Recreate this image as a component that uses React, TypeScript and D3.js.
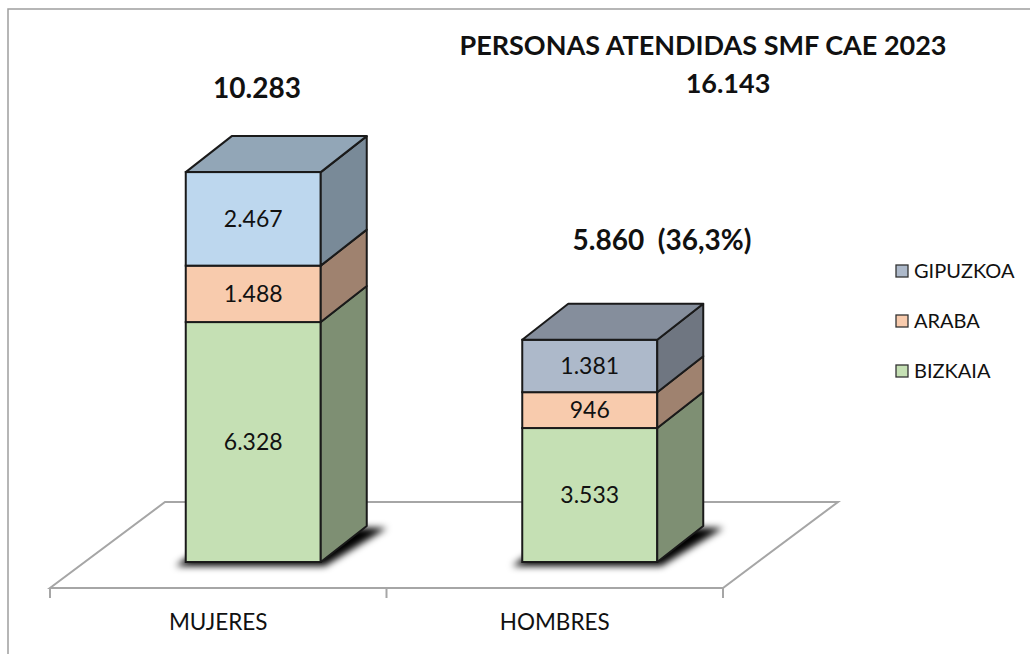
import React from "react";
import * as d3 from "d3";

const categories = ["MUJERES", "HOMBRES"];
const seriesNames = ["BIZKAIA", "ARABA", "GIPUZKOA"];
const bizkaia = [6328, 3533];
const araba = [1488, 946];
const gipuzkoa = [2467, 1381];
const totalLabels = ["10.283", "5.860  (36,3%)"];
const titleLines = ["PERSONAS ATENDIDAS SMF CAE 2023", "16.143"];
const legendOrder = ["GIPUZKOA", "ARABA", "BIZKAIA"];

const W = 1030;
const H = 654;
const FONT = "Lato, 'Open Sans', sans-serif";

const frontColors: Record<string, string[]> = {
  BIZKAIA: ["#C5E0B4", "#C5E0B4"],
  ARABA: ["#F8CBAD", "#F8CBAD"],
  GIPUZKOA: ["#BDD7EE", "#ADB9CA"],
};
const legendColors: Record<string, string> = {
  BIZKAIA: "#C5E0B4",
  ARABA: "#F8CBAD",
  GIPUZKOA: "#ADB9CA",
};

function shade(c: string, k: number) {
  const r = d3.rgb(c);
  return d3.rgb(r.r * k, r.g * k, r.b * k).formatHex();
}

const locale = d3.formatLocale({ decimal: ",", thousands: ".", grouping: [3], currency: ["", "€"] });
const fmt = locale.format(",d");

export default function App() {
  const floorFront = 588;
  const x = d3.scaleBand<string>().domain(categories).range([50, 723]);
  const y = d3.scaleLinear().domain([0, 12000]).range([562, 107]);
  const barW = 135;
  const barShift = 35;
  const dx = 46;
  const dy = -36;
  const fdx = 115;
  const fdy = -86;

  const seriesVals: Record<string, number[]> = { BIZKAIA: bizkaia, ARABA: araba, GIPUZKOA: gipuzkoa };
  const stack = d3.stack<any>().keys(seriesNames)(
    categories.map((c, i) => ({ cat: c, BIZKAIA: bizkaia[i], ARABA: araba[i], GIPUZKOA: gipuzkoa[i] }))
  );

  const x0 = x(categories[0])!;
  const x1 = x(categories[categories.length - 1])! + x.bandwidth();
  const floorPts = [
    [x0, floorFront],
    [x1, floorFront],
    [x1 + fdx, floorFront + fdy],
    [x0 + fdx, floorFront + fdy],
  ];

  const bars = categories.map((c, i) => {
    const cx = x(c)! + x.bandwidth() / 2 + barShift;
    const left = cx - barW / 2;
    const right = cx + barW / 2;
    return { c, i, cx, left, right };
  });

  return (
    <svg width={W} height={H} style={{ position: "absolute", left: 0, top: 0, background: "#fff" }}>
      <defs>
        <filter id="blur" x="-30%" y="-30%" width="160%" height="160%">
          <feGaussianBlur stdDeviation="3.5" />
        </filter>
      </defs>
      <rect x={0} y={0} width={W} height={H} fill="#fff" />
      <rect x={8} y={9} width={W + 20} height={H + 20} fill="none" stroke="#9E9E9E" strokeWidth={1.5} />

      {/* floor */}
      <polygon points={floorPts.map((p) => p.join(",")).join(" ")} fill="#fff" stroke="#A6A6A6" strokeWidth={2} />
      {[x0, ...categories.map((c) => x(c)! + x.bandwidth())].map((t, k) => (
        <line key={k} x1={t} x2={t} y1={floorFront} y2={floorFront + 10} stroke="#A6A6A6" strokeWidth={2} />
      ))}

      {/* shadows */}
      {bars.map((b) => {
        const yb = y(0);
        const pts = [
          [b.left - 10, yb + 4],
          [b.right + 4, yb + 4],
          [b.right + dx + 20, yb + dy + 2],
          [b.left + dx, yb + dy],
        ];
        return (
          <polygon key={"s" + b.c} points={pts.map((p) => p.join(",")).join(" ")} fill="#000" filter="url(#blur)" />
        );
      })}

      {/* bars */}
      {bars.map((b) => (
        <g key={b.c}>
          {stack.map((s) => {
            const key = s.key;
            const d = s[b.i];
            const yTop = y(d[1]);
            const yBot = y(d[0]);
            const front = frontColors[key][b.i];
            const isTop = key === seriesNames[seriesNames.length - 1];
            const side = [
              [b.right, yBot],
              [b.right, yTop],
              [b.right + dx, yTop + dy],
              [b.right + dx, yBot + dy],
            ];
            const top = [
              [b.left, yTop],
              [b.right, yTop],
              [b.right + dx, yTop + dy],
              [b.left + dx, yTop + dy],
            ];
            return (
              <g key={key}>
                <rect x={b.left} y={yTop} width={barW} height={yBot - yTop} fill={front} stroke="#1A1A1A" strokeWidth={2} />
                <polygon points={side.map((p) => p.join(",")).join(" ")} fill={shade(front, 0.64)} stroke="#1A1A1A" strokeWidth={2} strokeLinejoin="round" />
                {isTop && (
                  <polygon points={top.map((p) => p.join(",")).join(" ")} fill={shade(front, 0.77)} stroke="#1A1A1A" strokeWidth={2} strokeLinejoin="round" />
                )}
                <text x={b.cx} y={(yTop + yBot) / 2} dy="0.36em" textAnchor="middle" fontFamily={FONT} fontSize={23} fill="#111">
                  {fmt(seriesVals[key][b.i])}
                </text>
              </g>
            );
          })}
        </g>
      ))}

      {/* category labels */}
      {categories.map((c) => (
        <text key={c} x={x(c)! + x.bandwidth() / 2} y={630} textAnchor="middle" fontFamily={FONT} fontSize={22.5} fill="#111">
          {c}
        </text>
      ))}

      {/* total labels */}
      <text x={257} y={98} textAnchor="middle" fontFamily={FONT} fontWeight="bold" fontSize={28} fill="#111">
        {totalLabels[0]}
      </text>
      <text x={662} y={250} textAnchor="middle" fontFamily={FONT} fontWeight="bold" fontSize={28} fill="#111" style={{ whiteSpace: "pre" }}>
        {totalLabels[1]}
      </text>

      {/* title */}
      <text x={703} y={55} textAnchor="middle" fontFamily={FONT} fontWeight="bold" fontSize={27} fill="#111">
        {titleLines[0]}
      </text>
      <text x={728} y={93} textAnchor="middle" fontFamily={FONT} fontWeight="bold" fontSize={27} fill="#111">
        {titleLines[1]}
      </text>

      {/* legend */}
      {legendOrder.map((k, i) => (
        <g key={k} transform={`translate(896, ${265 + i * 50})`}>
          <rect x={0} y={0} width={12} height={12} fill={legendColors[k]} stroke="#333" strokeWidth={1.3} />
          <text x={18} y={13} fontFamily={FONT} fontSize={20} fill="#111">
            {k}
          </text>
        </g>
      ))}
    </svg>
  );
}
